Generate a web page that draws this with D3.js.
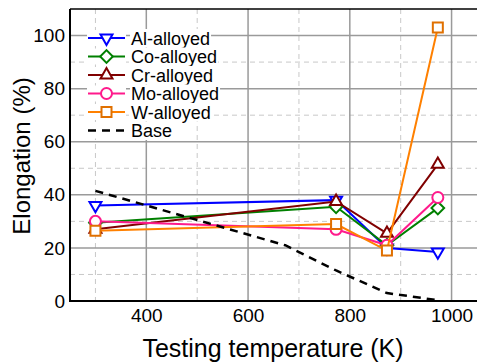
<!DOCTYPE html>
<meta charset="utf-8">
<style>
body { margin: 0; background: #fff; }
text { font-family: Arial, "Liberation Sans", sans-serif; fill: #000; }
.grid-major line { stroke: #9a9a9a; stroke-width: 1.5px; }
.grid-minor line { stroke: #c8c8c8; stroke-width: 1px; stroke-dasharray: 5,4; }
.series path.line { fill: none; stroke-width: 2px; }
.marker { fill: #fff; stroke-width: 2px; }
.base { fill: none; stroke: #000; stroke-width: 2.5px; stroke-dasharray: 8,6; }
</style>
<body>
<svg width="477" height="362"></svg>
<script src="https://cdn.jsdelivr.net/npm/d3@7"></script>
<script>

// data
let temps = [300, 773, 873, 973];
let alValues = [36, 38, 20, 18.5];
let coValues = [29.5, 35.5, 21, 35];
let crValues = [27, 37.5, 25.5, 51.5];
let moValues = [30, 27, 21, 39];
let wValues = [26.5, 29, 19, 103];

let baseTemps = [300, 673, 773, 873, 973];
let baseValues = [41.5, 21, 11.5, 3, 0.3];

let seriesNames = ['Al-alloyed', 'Co-alloyed', 'Cr-alloyed', 'Mo-alloyed', 'W-alloyed'];
let seriesColors = ['#0000ff', '#008000', '#800000', '#ff1a8c', '#ff8000'];
let markerColors = ['#0000ff', '#008000', '#800000', '#ff1a8c', '#e07000'];

let xTicks = [400, 600, 800, 1000];
let xMinor = [300, 500, 700, 900];
let yTicks = [0, 20, 40, 60, 80, 100];
let yMinor = [10, 30, 50, 70, 90];

let series = [alValues, coValues, crValues, moValues, wValues];

let margin = {left: 70, top: 9, right: 477, bottom: 301};

let x = d3.scaleLinear().domain([250, 1050]).range([margin.left, margin.right]);
let y = d3.scaleLinear().domain([0, 110]).range([margin.bottom, margin.top]);

let svg = d3.select('svg');

// marker shapes
let shapes = [
  {type: d3.symbolTriangle, size: 62, rot: 180},
  {type: d3.symbolSquare, size: 80, rot: 45},
  {type: d3.symbolTriangle, size: 62, rot: 0},
  {type: d3.symbolCircle, size: 95, rot: 0},
  {type: d3.symbolSquare, size: 100, rot: 0}
];

// grid
svg.append('g').attr('class', 'grid-minor')
  .selectAll('line.v').data(xMinor).join('line')
  .attr('x1', d => x(d)).attr('x2', d => x(d))
  .attr('y1', margin.top).attr('y2', margin.bottom);
svg.select('.grid-minor')
  .selectAll('line.h').data(yMinor).join('line').attr('class', 'h')
  .attr('x1', margin.left).attr('x2', margin.right)
  .attr('y1', d => y(d)).attr('y2', d => y(d));

let gMaj = svg.append('g').attr('class', 'grid-major');
gMaj.selectAll('line.v').data(xTicks).join('line').attr('class', 'v')
  .attr('x1', d => x(d)).attr('x2', d => x(d))
  .attr('y1', margin.top).attr('y2', margin.bottom);
gMaj.selectAll('line.h').data(yTicks.slice(1)).join('line').attr('class', 'h')
  .attr('x1', margin.left).attr('x2', margin.right)
  .attr('y1', d => y(d)).attr('y2', d => y(d));

// axes (labels only, no tick marks)
let xAxis = svg.append('g')
  .attr('transform', `translate(0,${margin.bottom})`)
  .call(d3.axisBottom(x).tickValues(xTicks).tickFormat(d3.format('d')).tickSize(0).tickPadding(8));
let yAxis = svg.append('g')
  .attr('transform', `translate(${margin.left},0)`)
  .call(d3.axisLeft(y).tickValues(yTicks).tickFormat(d3.format('d')).tickSize(0).tickPadding(5));
[xAxis, yAxis].forEach(a => {
  a.select('.domain').remove();
  a.selectAll('text').style('font-size', '19px').style('font-family', 'Arial, "Liberation Sans", sans-serif');
});

// frame
svg.append('line').attr('x1', margin.left).attr('x2', margin.right)
  .attr('y1', margin.top).attr('y2', margin.top)
  .attr('stroke', '#000').attr('stroke-width', 1.5);
svg.append('line').attr('x1', margin.left).attr('x2', margin.right)
  .attr('y1', margin.bottom).attr('y2', margin.bottom)
  .attr('stroke', '#000').attr('stroke-width', 2);
svg.append('line').attr('x1', margin.left).attr('x2', margin.left)
  .attr('y1', margin.top).attr('y2', margin.bottom + 1)
  .attr('stroke', '#000').attr('stroke-width', 2);

// legend
let legend = svg.append('g');
let rowH = 18.5;
let legendRows = seriesNames.concat(['Base']);
legendRows.forEach((name, i) => {
  let cy = 38 + i * rowH;
  let g = legend.append('g');
  g.append('rect').attr('x', 87).attr('y', cy - 8).attr('width', 39).attr('height', 16).attr('fill', '#fff');
  let t = g.append('text').attr('x', 131).attr('y', cy + 6.5)
    .style('font-size', '18px').text(name);
  let bb = t.node().getBBox();
  g.insert('rect', 'text').attr('x', bb.x - 1).attr('y', cy - 9)
    .attr('width', bb.width + 2).attr('height', 18.5).attr('fill', '#fff');
  if (i < 5) {
    g.append('line').attr('x1', 88).attr('x2', 125).attr('y1', cy).attr('y2', cy)
      .attr('stroke', seriesColors[i]).attr('stroke-width', 2);
    g.append('path')
      .attr('class', 'marker')
      .attr('d', d3.symbol().type(shapes[i].type).size(shapes[i].size)())
      .attr('transform', `translate(106.5,${cy}) rotate(${shapes[i].rot})`)
      .attr('stroke', markerColors[i]);
  } else {
    g.append('line').attr('x1', 88).attr('x2', 125).attr('y1', cy).attr('y2', cy)
      .attr('class', 'base');
  }
});

// series
let lineGen = d3.line().x(d => x(d[0])).y(d => y(d[1]));
series.forEach((vals, i) => {
  let pts = temps.map((t, j) => [t, vals[j]]);
  let g = svg.append('g').attr('class', 'series');
  g.append('path').attr('class', 'line').attr('d', lineGen(pts)).attr('stroke', seriesColors[i]);
  g.selectAll('path.marker').data(pts).join('path')
    .attr('class', 'marker')
    .attr('d', d3.symbol().type(shapes[i].type).size(shapes[i].size)())
    .attr('transform', d => `translate(${x(d[0])},${y(d[1])}) rotate(${shapes[i].rot})`)
    .attr('stroke', markerColors[i]);
});

svg.append('path').attr('class', 'base')
  .attr('d', lineGen(baseTemps.map((t, j) => [t, baseValues[j]])));

// titles
svg.append('text').attr('x', 273).attr('y', 357).attr('text-anchor', 'middle')
  .style('font-size', '25px').text('Testing temperature (K)');
svg.append('text').attr('transform', 'translate(30,156) rotate(-90)').attr('text-anchor', 'middle')
  .style('font-size', '24px').text('Elongation (%)');

</script>
</body>
